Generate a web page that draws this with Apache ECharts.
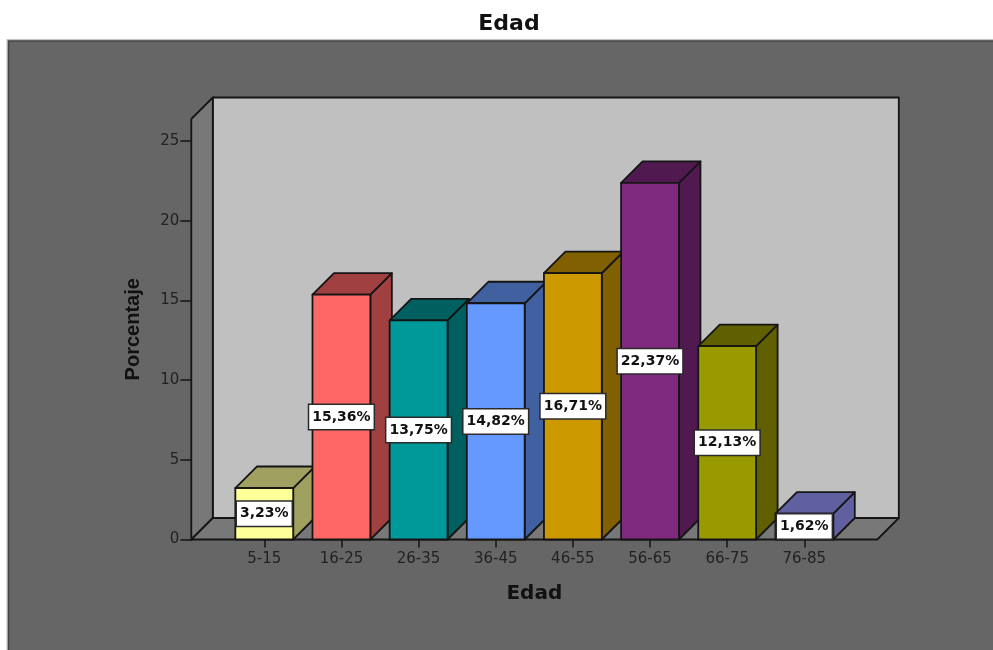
<!DOCTYPE html>
<html>
<head>
<meta charset="utf-8">
<style>html,body{margin:0;padding:0;background:#fff}#c{width:993px;height:650px}</style>
<script src="https://cdn.jsdelivr.net/npm/echarts@6/dist/echarts.min.js"></script>
</head>
<body>
<div id="c"></div>
<script>
const categories = ['5-15','16-25','26-35','36-45','46-55','56-65','66-75','76-85'];
const percentages = [3.23,15.36,13.75,14.82,16.71,22.37,12.13,1.62];
const percentLabels = ['3,23%','15,36%','13,75%','14,82%','16,71%','22,37%','12,13%','1,62%'];
const yTicks = [0,5,10,15,20,25];
const frontColors = ['#ffff99','#ff6666','#009999','#6699ff','#cc9900','#7f2a7f','#999900','#9999ff'];
const shadeColors = ['#a0a060','#a04040','#006060','#4060a0','#806000','#501a50','#606000','#6060a0'];

const DEPTH = 21.5, SIDE_PAD = 34.4, EDGE = '#151515';
const edge = {stroke: EDGE, lineWidth: 1.8, lineJoin: 'round'};
const poly = (points, fill) => ({type: 'polygon', shape: {points}, style: Object.assign({fill}, edge)});

function renderFrame(params, api) {
  const c = params.coordSys;
  const L = c.x - SIDE_PAD, R = c.x + c.width + SIDE_PAD, T = c.y, B = c.y + c.height, d = DEPTH;
  return {type: 'group', children: [
    poly([[L+d,T-d],[R+d,T-d],[R+d,B-d],[L+d,B-d]], '#c0c0c0'),
    poly([[L,T],[L+d,T-d],[L+d,B-d],[L,B]], '#787878'),
    poly([[L,B],[L+d,B-d],[R+d,B-d],[R,B]], '#787878')
  ]};
}

function renderBar(params, api) {
  const i = api.value(0), p = api.coord([i, api.value(1)]), base = api.coord([i, 0]);
  const w = api.size([1, 0])[0] * 0.75, d = DEPTH;
  const x0 = p[0] - w / 2, x1 = p[0] + w / 2, yt = p[1], yb = base[1];
  return {type: 'group', children: [
    poly([[x1,yb],[x1+d,yb-d],[x1+d,yt-d],[x1,yt]], shadeColors[i]),
    poly([[x0,yt],[x0+d,yt-d],[x1+d,yt-d],[x1,yt]], shadeColors[i]),
    poly([[x0,yt],[x1,yt],[x1,yb],[x0,yb]], frontColors[i])
  ]};
}

function renderLabel(params, api) {
  const i = api.value(0), p = api.coord([i, api.value(1) / 2]);
  return {type: 'text', x: p[0], y: p[1], style: {
    text: percentLabels[i], font: 'bold 14px "DejaVu Sans"', fill: '#111',
    align: 'center', verticalAlign: 'middle', backgroundColor: '#fff',
    borderColor: '#2a2a2a', borderWidth: 1.5, padding: [5, 3, 5, 3]
  }};
}

const rows = categories.map((c, i) => [i, percentages[i]]);
const chart = echarts.init(document.getElementById('c'), null, {renderer: 'canvas'});
chart.setOption({
  animation: false,
  backgroundColor: '#ffffff',
  title: {text: 'Edad', left: 504, top: 8, textAlign: 'center',
    textStyle: {fontFamily: 'DejaVu Sans', fontWeight: 'bold', fontSize: 22, color: '#111'}},
  graphic: [
    {type: 'rect', z: -11, shape: {x: 6.5, y: 39, width: 1000, height: 640},
      style: {fill: '#c4c4c4'}},
    {type: 'rect', z: -10, shape: {x: 8.5, y: 41, width: 1000, height: 640},
      style: {fill: '#666666', stroke: '#444444', lineWidth: 1.5}}
  ],
  grid: {left: 225.7, top: 119, width: 617.2, height: 420.5},
  xAxis: {
    type: 'category', data: categories,
    name: 'Edad', nameLocation: 'middle', nameGap: 44,
    nameTextStyle: {fontFamily: 'DejaVu Sans', fontWeight: 'bold', fontSize: 20, color: '#111'},
    axisLine: {show: false},
    axisTick: {show: true, alignWithLabel: true, length: 8, lineStyle: {color: EDGE, width: 1.5}},
    axisLabel: {fontFamily: 'DejaVu Sans', fontSize: 15, color: '#222', margin: 12, interval: 0},
    splitLine: {show: false}
  },
  yAxis: {
    type: 'value', min: 0, max: 26.38, interval: 5, offset: 34.4,
    name: 'Porcentaje', nameLocation: 'middle', nameGap: 48,
    nameTextStyle: {fontFamily: 'Liberation Sans', fontWeight: 'bold', fontSize: 20, color: '#111'},
    axisLine: {show: true, lineStyle: {color: EDGE, width: 1.8}},
    axisTick: {show: true, length: 11, customValues: yTicks, lineStyle: {color: EDGE, width: 1.5}},
    axisLabel: {fontFamily: 'DejaVu Sans', fontSize: 15, color: '#222', margin: 12, padding: [8, 0, 0, 0], customValues: yTicks},
    splitLine: {show: false}
  },
  series: [
    {type: 'custom', z: 1, silent: true, clip: false, renderItem: renderFrame, data: [[0, 0]], encode: {x: 0, y: 1}},
    {type: 'custom', z: 3, silent: true, clip: false, renderItem: renderBar, data: rows, encode: {x: 0, y: 1}},
    {type: 'custom', z: 4, silent: true, clip: false, renderItem: renderLabel, data: rows, encode: {x: 0, y: 1}}
  ]
});
</script>
</body>
</html>
